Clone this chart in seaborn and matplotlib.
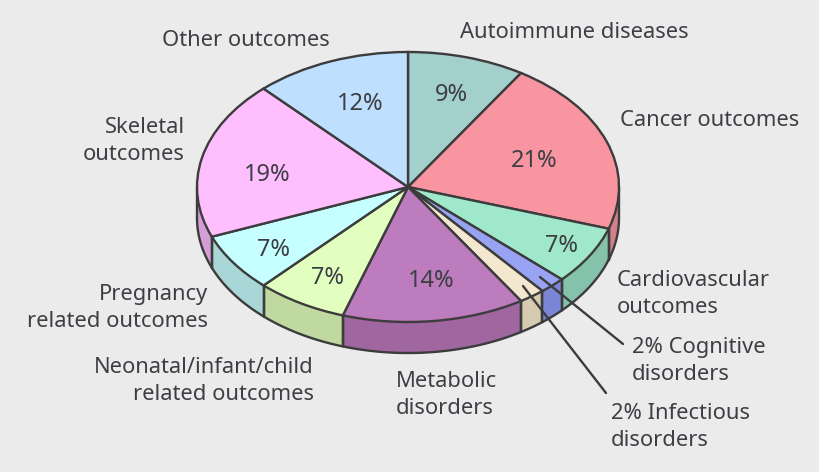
import numpy as np
import matplotlib
matplotlib.use('Agg')
import matplotlib.pyplot as plt
import seaborn as sns

categories = ['Autoimmune diseases', 'Cancer outcomes', 'Cardiovascular outcomes', 'Cognitive disorders',
              'Infectious disorders', 'Metabolic disorders', 'Neonatal/infant/child related outcomes',
              'Pregnancy related outcomes', 'Skeletal outcomes', 'Other outcomes']
percent = [9, 21, 7, 2, 2, 14, 7, 7, 19, 12]

top_colors = ['#a3cfcd', '#f895a1', '#a0e8cc', '#98a3f4', '#f3e7cf', '#bd7cbd',
              '#e2ffbf', '#c5ffff', '#ffbfff', '#bfdfff']
side_colors = ['#8ab2b0', '#d3808b', '#84c2ac', '#7a85d6', '#d6cbb0', '#a066a0',
               '#c0d9a0', '#a9d6d6', '#d49fd6', '#a3bfdb']

# labels, in picture pixels: text, x, y, alignment
outer_labels = [
    ('Autoimmune diseases', 460, 32, 'left'),
    ('Other outcomes', 330, 40, 'right'),
    ('Cancer outcomes', 620, 121, 'left'),
    ('Skeletal\noutcomes', 185, 141, 'right'),
    ('Cardiovascular\noutcomes', 617, 294, 'left'),
    ('Pregnancy\nrelated outcomes', 208, 308, 'right'),
    ('Neonatal/infant/child\nrelated outcomes', 314, 381, 'right'),
    ('Metabolic\ndisorders', 396, 395, 'left'),
    ('2% Cognitive\ndisorders', 632, 361, 'left'),
    ('2% Infectious\ndisorders', 611, 427, 'left'),
]
pct_pos = [(451, 95), (534, 161), (561, 246), None, None, (431, 281), (328, 278), (274, 250), (267, 175), (360, 104)]

sns.set_theme(style='white')
plt.rcParams['font.family'] = ['Noto Sans', 'DejaVu Sans']
edge = '#3c3c3c'
txt = '#3c3f44'
lw = 1.7

cx, cy, rx, ry, depth = 408, 187, 211, 135, 31

fig = plt.figure(figsize=(8.2, 4.72), dpi=100, facecolor='#ebebeb')
ax = fig.add_axes([0, 0, 1, 1])

wedges, _ = ax.pie(percent, startangle=90, counterclock=False, colors=sns.color_palette(top_colors),
                   wedgeprops={'edgecolor': edge, 'linewidth': lw, 'zorder': 3})
ax.set_aspect('auto')
ax.set_xlim(-cx / rx, (820 - cx) / rx)
ax.set_ylim((cy - 472) / ry, cy / ry)
ax.axis('off')

# rim of the disc, only the front half shows
d = depth / ry
for w, col in zip(wedges, sns.color_palette(side_colors)):
    t1, t2 = max(w.theta1, -180), min(w.theta2, 0)
    if t1 >= t2:
        continue
    t = np.radians(np.linspace(t1, t2, 80))
    x, y = np.cos(t), np.sin(t)
    ax.fill_between(x, y, y - d, color=col, linewidth=0, zorder=1)
    ax.plot(x, y - d, color=edge, lw=lw, zorder=2, solid_capstyle='round')
    for a in (t1, t2):
        a = np.radians(a)
        ax.plot([np.cos(a)] * 2, [np.sin(a), np.sin(a) - d], color=edge, lw=lw, zorder=2)


def px(x, y):
    return x / 820, 1 - y / 472


for p, pos in zip(percent, pct_pos):
    if pos is not None:
        fig.text(*px(*pos), f'{p}%', ha='center', va='center', fontsize=17, color=txt, zorder=5)

for s, x, y, ha in outer_labels:
    fig.text(*px(x, y), s, ha=ha, va='center', fontsize=15.8, color=txt, linespacing=1.33)

# leader lines
for (x0, y0), (x1, y1) in [((540, 277), (623, 344)), ((523, 286), (606, 393))]:
    ax.plot([(x0 - cx) / rx, (x1 - cx) / rx], [(cy - y0) / ry, (cy - y1) / ry], color=edge, lw=lw, zorder=4)

fig.savefig('out.png', dpi=100, facecolor=fig.get_facecolor())
